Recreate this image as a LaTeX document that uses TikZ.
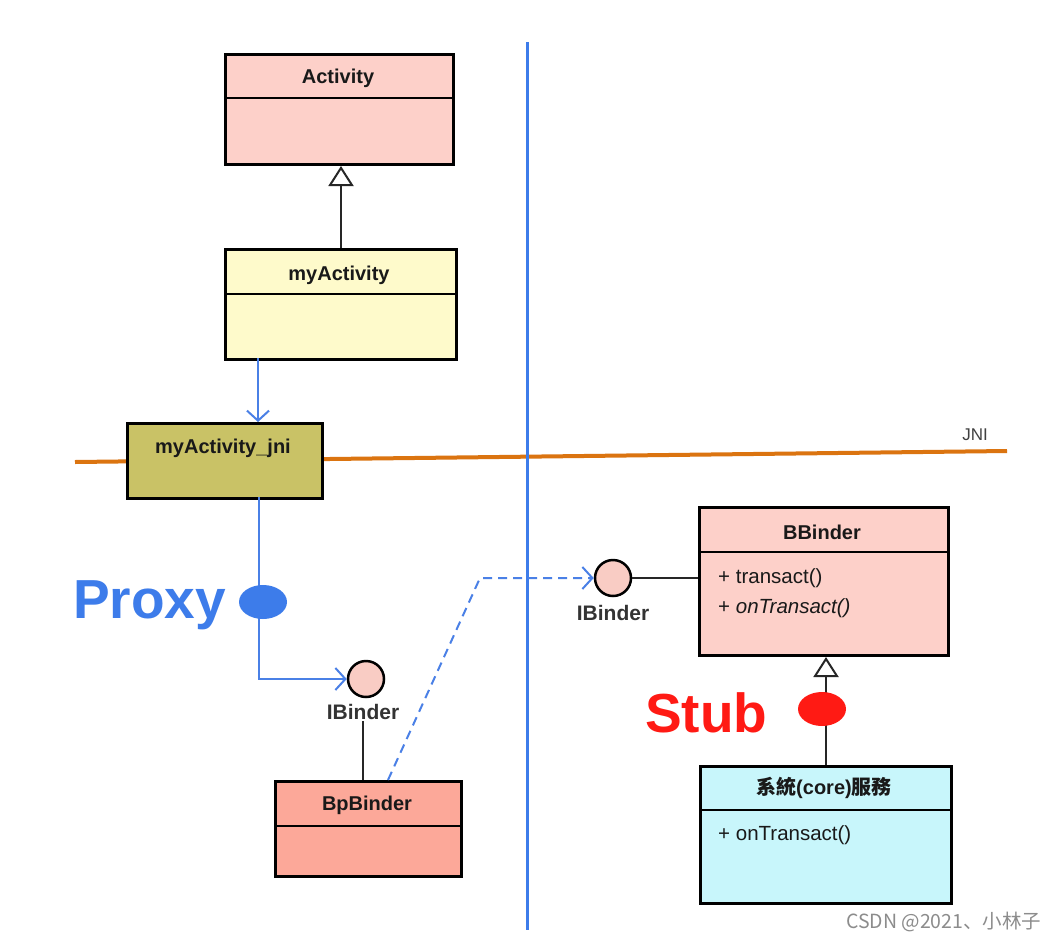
\documentclass[tikz,border=0pt]{standalone}
\usepackage{fontspec}
\setmainfont{Liberation Sans}
\newfontfamily\cjktc{Noto Sans CJK TC}
\newfontfamily\cjksc{Noto Sans CJK SC}
\usetikzlibrary{arrows.meta,shapes.geometric}
\definecolor{actpink}{HTML}{FDD0C9}
\definecolor{myyellow}{HTML}{FEFACB}
\definecolor{jniolive}{HTML}{C9C266}
\definecolor{bppink}{HTML}{FCA899}
\definecolor{sysCyan}{HTML}{C8F6FB}
\definecolor{circpink}{HTML}{F9CCC4}
\definecolor{proxyblue}{HTML}{3D7CEA}
\definecolor{linkblue}{HTML}{4A80E6}
\definecolor{stubred}{HTML}{FF1A14}
\definecolor{jniorange}{HTML}{DB7410}
\begin{document}
\begin{tikzpicture}[x=1pt,y=-1pt,
  umlbox/.style={draw=black, line width=3pt, inner sep=0pt, anchor=north west},
  divider/.style={draw=black, line width=1.6pt},
  boxtitle/.style={font=\fontsize{20}{23}\selectfont\bfseries, text=black!90, inner sep=0pt},
  method/.style={font=\fontsize{20.5}{23}\selectfont, text=black!90, inner sep=0pt, anchor=base west},
  conn/.style={draw=black!85, line width=2pt},
  inherit/.style={draw=black!85, line width=2pt, -{Triangle[open,length=20pt,width=25pt,line width=2pt]}},
  bluearrow/.style={draw=linkblue, line width=2pt, -{Straight Barb[length=10pt,width=22pt,line width=2pt]}},
  dasharrow/.style={draw=linkblue, line width=2pt, dash pattern=on 9pt off 6pt, -{Straight Barb[length=10pt,width=22pt,line width=2pt]}},
  iface/.style={circle, draw=black, line width=2.5pt, fill=circpink, minimum size=36pt, inner sep=0pt},
  ifacelabel/.style={font=\fontsize{21}{24}\selectfont\bfseries, text=black!80, inner sep=1pt},
  dot/.style={ellipse, minimum width=48pt, minimum height=34pt, inner sep=0pt}
]
\useasboundingbox[fill=white] (0,0) rectangle (1060,940);

% separators
\draw[jniorange, line width=4pt] (75,462) -- (1007,451);
\node[font=\fontsize{17}{20}\selectfont, text=black!75] (jnilabel) at (975,435) {JNI};
\draw[proxyblue, line width=3pt] (527,42) -- (527,930);

% Activity
\node[umlbox, fill=actpink, minimum width=228pt, minimum height=110pt] (act) at (224,53) {};
\draw[divider] (224,98) -- (452,98);
\node[boxtitle] (actT) at (338,78) {Activity};

% myActivity
\node[umlbox, fill=myyellow, minimum width=231pt, minimum height=110pt] (myact) at (224,248) {};
\draw[divider] (224,294) -- (455,294);
\node[boxtitle] (myactT) at (339,275) {myActivity};

% myActivity_jni
\node[umlbox, fill=jniolive, minimum width=195pt, minimum height=75pt] (jni) at (126,422) {};
\node[boxtitle] (jniT) at (223,448) {myActivity\_jni};

% BpBinder
\node[umlbox, fill=bppink, minimum width=186pt, minimum height=95pt] (bp) at (274,780) {};
\draw[divider] (274,826) -- (460,826);
\node[boxtitle] (bpT) at (367,805) {BpBinder};

% BBinder
\node[umlbox, fill=actpink, minimum width=249pt, minimum height=148pt] (bb) at (698,506) {};
\draw[divider] (698,552) -- (947,552);
\node[boxtitle] (bbT) at (822,532) {BBinder};
\node[method] (bbm1) at (718,583) {+ transact()};
\node[method] (bbm2) at (718,613) {+ \itshape onTransact()};

% System service
\node[umlbox, fill=sysCyan, minimum width=251pt, minimum height=137pt] (sys) at (699,765) {};
\draw[divider] (699,810) -- (950,810);
\node[boxtitle] (sysT) at (824,788) {{\cjktc\bfseries 系統}(core){\cjktc\bfseries 服務}};
\node[method] (sysm1) at (718,840) {+ onTransact()};

% interfaces
\node[iface] (ibl) at (366,679) {};
\node[ifacelabel] (iblT) at (363,712) {IBinder};
\node[iface] (ibr) at (613,578) {};
\node[ifacelabel] (ibrT) at (613,613) {IBinder};

% connectors
\draw[inherit] (myact.north) -- (myact.north |- act.south);
\draw[inherit] (sys.north) -- (sys.north |- bb.south);

\coordinate (a1) at (258,358);
\draw[bluearrow] (a1) -- (a1 |- jni.north);
\coordinate (a2) at (259,497);
\draw[bluearrow] (a2) -- (a2 |- ibl.west) -- (ibl.west);

\draw[conn] (iblT.south) -- (iblT.south |- bp.north);
\draw[conn] (ibr.east) -- (ibr.east -| bb.west);

\coordinate (d1) at (388,780);
\coordinate (d2) at (480,578);
\draw[dasharrow] (d1) -- (d2) -- (ibr.west);

% markers
\node[dot, fill=proxyblue] (pdot) at (263,602) {};
\node[dot, fill=stubred] (sdot) at (822,709) {};
\node[font=\fontsize{55}{62}\selectfont\bfseries, text=proxyblue, anchor=base west, inner sep=0pt] (proxy) at (73,618) {Proxy};
\node[font=\fontsize{55}{62}\selectfont\bfseries, text=stubred, anchor=base west, inner sep=0pt] (stub) at (645,732) {Stub};

% watermark
\node[font=\fontsize{19.5}{22}\selectfont, text=black!45, anchor=base west, inner sep=0pt] (wm) at (846,928) {\cjksc CSDN @2021、小林子};
\end{tikzpicture}
\end{document}
